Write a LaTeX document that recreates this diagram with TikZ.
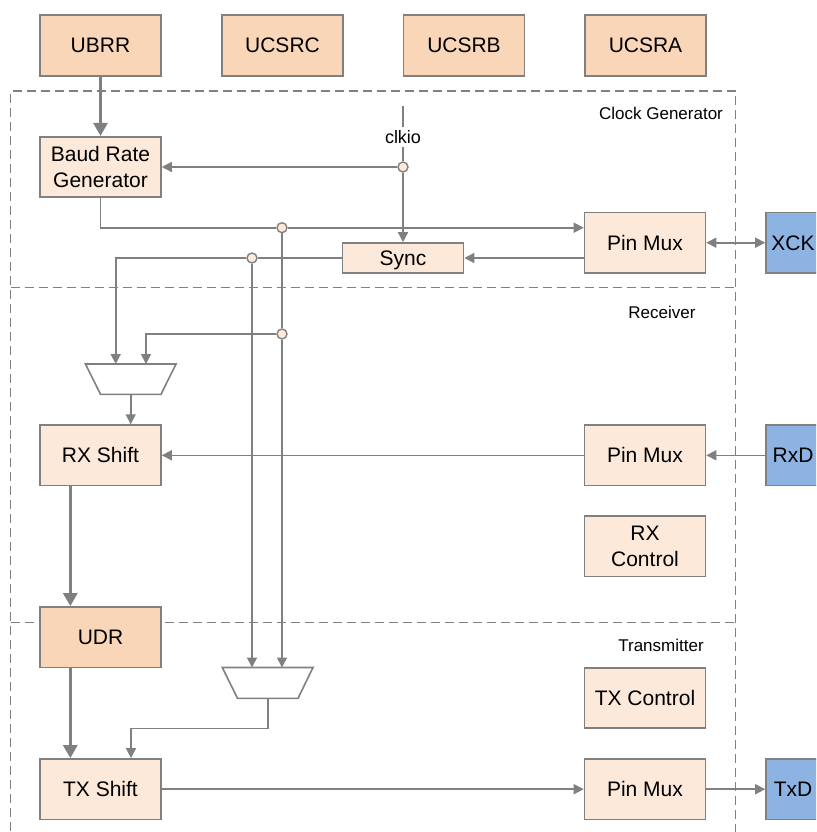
\documentclass[tikz,border=0pt]{standalone}
\usepackage{fontspec}
\setmainfont{Liberation Sans}
\usetikzlibrary{arrows.meta}
\definecolor{lc}{HTML}{808080}
\definecolor{dpeach}{HTML}{FAD6B8}
\definecolor{lpeach}{HTML}{FDE9DA}
\definecolor{pinblue}{HTML}{8DB3E2}
\begin{document}
\begin{tikzpicture}[x=1pt,y=-1pt,
 box/.style={draw=lc, line width=1.6pt, minimum width=121pt, minimum height=60.5pt, inner sep=0pt, font=\fontsize{21}{26}\selectfont, text height=15pt, text depth=0pt, align=center, text=black},
 two/.style={text height=41pt},
 reg/.style={box, fill=dpeach},
 blk/.style={box, fill=lpeach},
 pin/.style={box, fill=pinblue, minimum width=54pt},
 sec/.style={font=\fontsize{17}{20}\selectfont, inner sep=0pt},
 wire/.style={draw=lc, line width=1.6pt},
 arr/.style={wire, -{Triangle[length=10pt,width=10pt]}},
 darr/.style={wire, {Triangle[length=10pt,width=10pt]}-{Triangle[length=10pt,width=10pt]}},
 bigarr/.style={draw=lc, line width=2.8pt, -{Triangle[length=13pt,width=14pt]}},
 junc/.style={circle, draw=lc, fill=lpeach, line width=1.4pt, minimum size=10pt, inner sep=0pt},
 zone/.style={draw=lc, line width=1.5pt, dash pattern=on 9pt off 5pt},
 muxs/.style={draw=lc, line width=1.6pt, fill=white}
]
\useasboundingbox (0,0) rectangle (816,832);
\clip (0,0) rectangle (816,832);

% zones
\draw[zone] (10.7,845) -- (10.7,91) -- (735.7,91) -- (735.7,845);
\draw[zone] (10.7,287.3) -- (735.7,287.3);
\draw[zone] (10.7,622.3) -- (735.7,622.3);

\node[sec] (lclk) at (661,113) {Clock Generator};
\node[sec] (lrx) at (662,312) {Receiver};
\node[sec] (ltx) at (661,645) {Transmitter};

% blocks
\node[reg] (ubrr) at (100.5,45.5) {UBRR};
\node[reg] (ucsrc) at (282.5,45.5) {UCSRC};
\node[reg] (ucsrb) at (464,45.5) {UCSRB};
\node[reg] (ucsra) at (645.5,45.5) {UCSRA};
\node[blk, two] (baud) at (100.5,167) {Baud Rate\\Generator};
\node[blk] (pmc) at (645,242.7) {Pin Mux};
\node[blk, minimum height=30pt] (sync) at (403,258) {Sync};
\node[pin] (xck) at (793,242.7) {XCK};
\node[blk] (rxs) at (100.5,455.3) {RX Shift};
\node[blk] (pmr) at (645,455.3) {Pin Mux};
\node[pin] (rxd) at (793,455.3) {RxD};
\node[blk, two] (rxc) at (645,546.3) {RX\\Control};
\node[reg] (udr) at (100.5,637.2) {UDR};
\node[blk] (txc) at (645,698) {TX Control};
\node[blk] (txs) at (100.5,789.2) {TX Shift};
\node[blk] (pmt) at (645,789.2) {Pin Mux};
\node[pin] (txd) at (793,789.2) {TxD};

% clkio
\coordinate (clktop) at (403,106);
\node[font=\fontsize{18}{20}\selectfont, inner sep=3pt] (clkio) at (403,137) {clkio};

% junctions
\node[junc] (jclk) at (403,167) {};
\node[junc] (jA) at (282,227.7) {};
\node[junc] (jB) at (252,258) {};
\node[junc] (jC) at (282,334) {};

% muxes
\draw[muxs] (85.5,364) -- (176,364) -- (161,394.3) -- (100.5,394.3) -- cycle;
\coordinate (m1a) at (115.7,364);
\coordinate (m1b) at (146,364);
\coordinate (m1o) at (130.7,394.3);
\draw[muxs] (222.3,667.5) -- (313,667.5) -- (298,698.3) -- (237.5,698.3) -- cycle;
\coordinate (m2a) at (252,667.5);
\coordinate (m2b) at (282,667.5);
\coordinate (m2o) at (267.7,698.3);

% wires
\draw[bigarr] (ubrr.south) -- (baud.north);
\draw[wire] (clktop) -- (clkio);
\draw[wire] (clkio) -- (jclk);
\draw[arr] (jclk) -- (baud.east |- jclk);
\draw[arr] (jclk) -- (sync.north);
\draw[wire] (baud.south) |- (jA);
\draw[arr] (jA) -- (jA -| pmc.west);
\draw[arr] (pmc.west |- sync.east) -- (sync.east);
\draw[wire] (sync.west) -- (jB);
\draw[arr] (jB) -| (m1a);
\draw[arr] (jB) -- (m2a);
\draw[wire] (jA) -- (jC);
\draw[arr] (jC) -- (m2b);
\draw[arr] (jC) -| (m1b);
\draw[arr] (m1o) -- (m1o |- rxs.north);
\draw[arr] (rxd.west) -- (pmr.east);
\draw[arr] (pmr.west) -- (rxs.east);
\draw[bigarr] ([xshift=-30.2pt]rxs.south) -- ([xshift=-30.2pt]udr.north);
\draw[bigarr] ([xshift=-30.2pt]udr.south) -- ([xshift=-30.2pt]txs.north);
\draw[arr] (m2o) -- ++(0,30) -| ([xshift=30.5pt]txs.north);
\draw[arr] (txs.east) -- (pmt.west);
\draw[arr] (pmt.east) -- (txd.west);
\draw[darr] (pmc.east) -- (xck.west);
\end{tikzpicture}
\end{document}
